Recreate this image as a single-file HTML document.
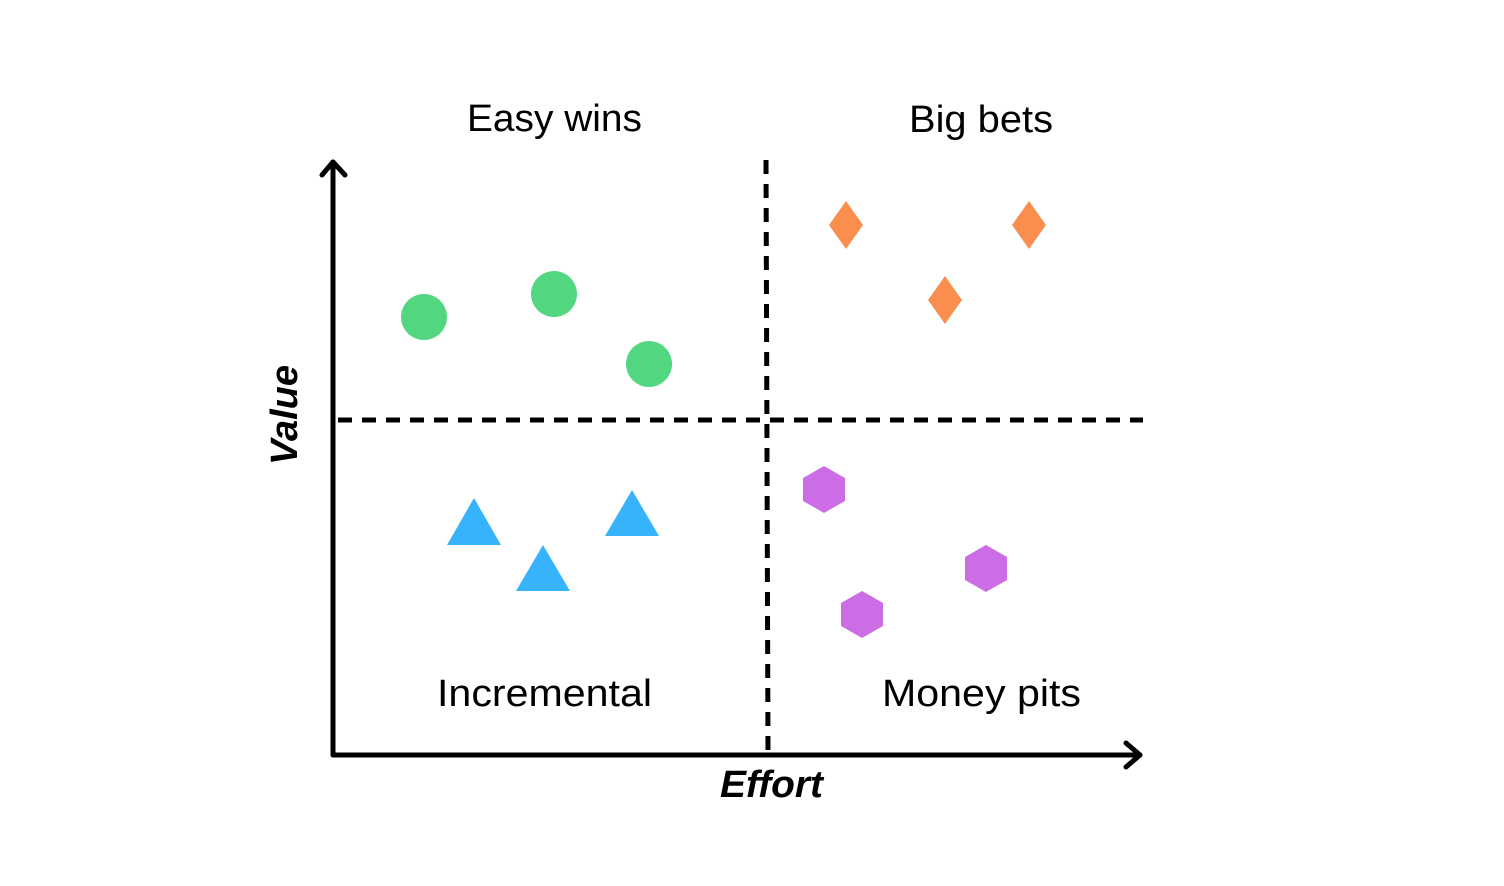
<!DOCTYPE html>
<html><head><style>html,body{margin:0;padding:0;background:#fff;}svg{display:block}</style></head>
<body>
<svg width="1504" height="886" viewBox="0 0 1504 886" xmlns="http://www.w3.org/2000/svg">
<rect width="1504" height="886" fill="#fff"/>
<g stroke="#000" stroke-width="5" stroke-dasharray="14 10" fill="none">
<line x1="338" y1="420" x2="1143" y2="420"/>
<line x1="766" y1="160" x2="768" y2="752"/>
</g>
<g stroke="#000" stroke-width="5" fill="none" stroke-linecap="round" stroke-linejoin="round">
<line x1="333" y1="162" x2="333" y2="755"/>
<polyline points="322,175 333,162 345,175"/>
<line x1="333" y1="755" x2="1140" y2="755"/>
<polyline points="1126,743 1140,755 1126,767"/>
</g>
<g fill="#52d680">
<circle cx="424" cy="317" r="23"/><circle cx="554" cy="294" r="23"/><circle cx="649" cy="364" r="23"/>
</g>
<g fill="#f98e4e">
<polygon points="846,201 863,225 846,249 829,225"/>
<polygon points="1029,201 1046,225 1029,249 1012,225"/>
<polygon points="945,276 962,300 945,324 928,300"/>
</g>
<g fill="#36b3fb">
<polygon points="474,498 501,545 447,545"/>
<polygon points="543,545 570,591 516,591"/>
<polygon points="632,490 659,536 605,536"/>
</g>
<g fill="#cc6de6">
<polygon points="824,466 845,478 845,501 824,513 803,501 803,478"/>
<polygon points="862,591 883,603 883,626 862,638 841,626 841,603"/>
<polygon points="986,545 1007,557 1007,580 986,592 965,580 965,557"/>
</g>
<g font-family="Liberation Sans, sans-serif" font-size="38" fill="#000">
<text x="467" y="131" textLength="175" lengthAdjust="spacingAndGlyphs">Easy wins</text>
<text x="909" y="132" textLength="144" lengthAdjust="spacingAndGlyphs">Big bets</text>
<text x="437" y="706" textLength="215" lengthAdjust="spacingAndGlyphs">Incremental</text>
<text x="882" y="706" textLength="199" lengthAdjust="spacingAndGlyphs">Money pits</text>
<text x="720" y="797" font-weight="bold" font-style="italic" textLength="103" lengthAdjust="spacingAndGlyphs">Effort</text>
<text transform="translate(297,415) rotate(-90)" text-anchor="middle" font-weight="bold" font-style="italic">Value</text>
</g>
</svg>
</body></html>
